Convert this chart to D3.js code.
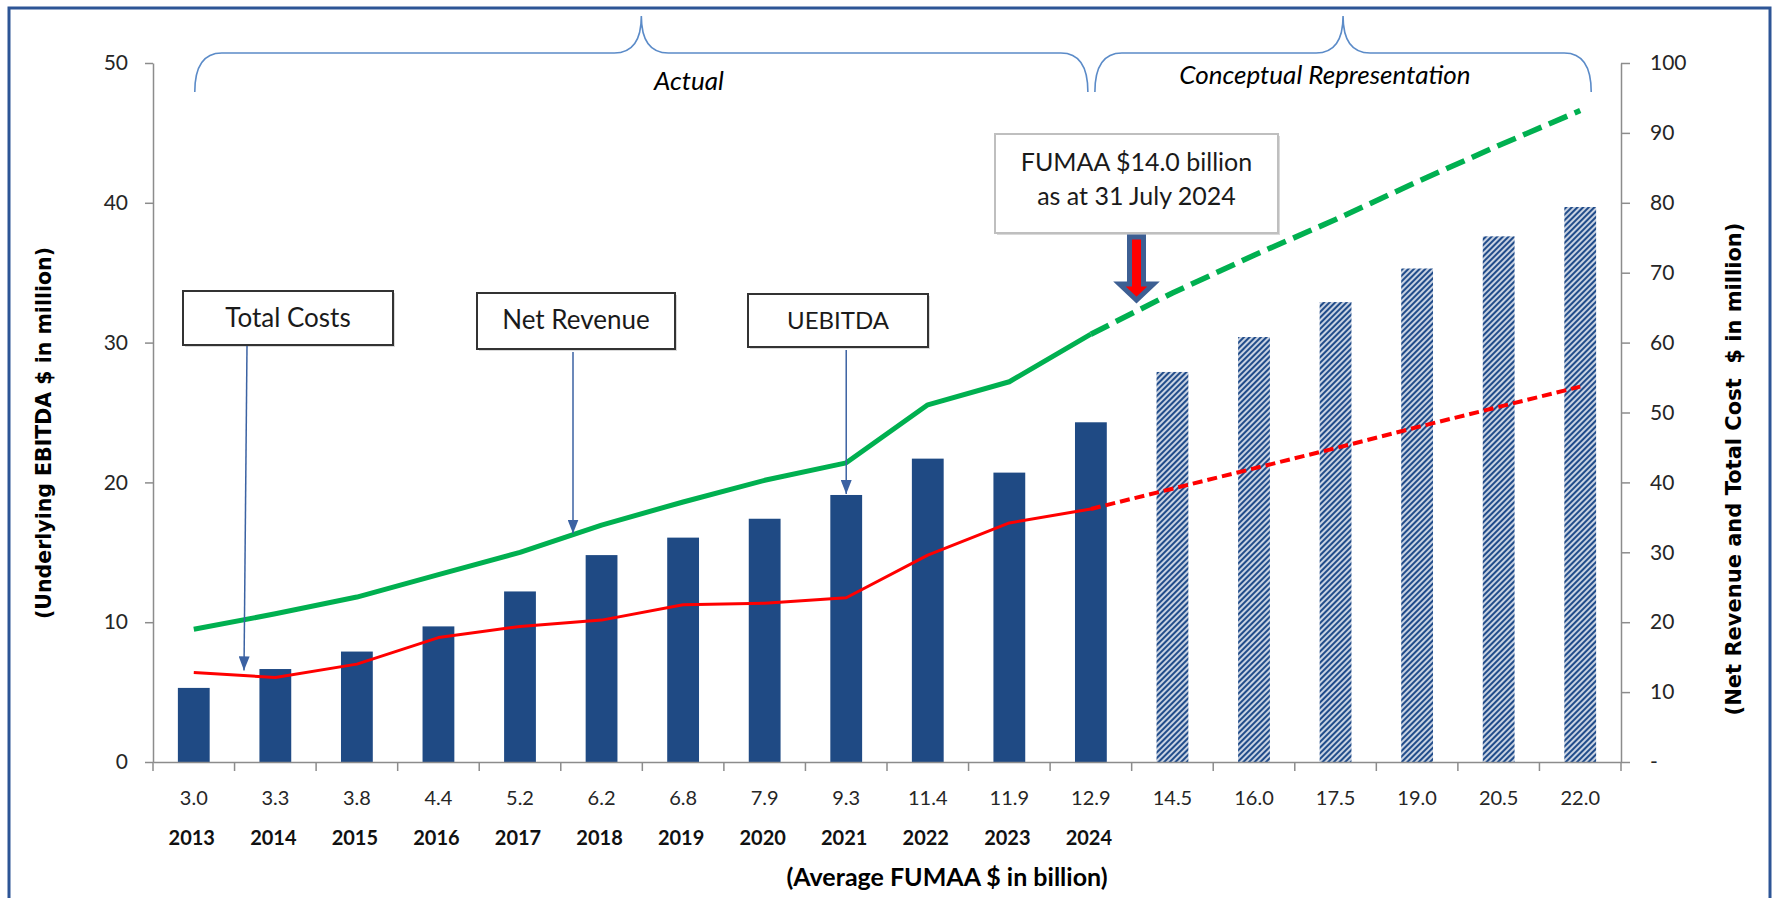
<!DOCTYPE html>
<html>
<head>
<meta charset="utf-8">
<script src="https://cdn.jsdelivr.net/npm/d3@7"></script>
<style>
body { margin: 0; background: #fff; }
svg { display: block; font-family: Lato, "Open Sans", sans-serif; }
.axis path, .axis line { stroke: #8c8c8c; stroke-width: 1.5; }
.axis text { fill: #262626; font-family: Lato, sans-serif; }
</style>
</head>
<body>
<svg class="chart"></svg>
<script>
// average FUMAA ($bn) and financial year per column
var fumaa = ["3.0", "3.3", "3.8", "4.4", "5.2", "6.2", "6.8", "7.9", "9.3", "11.4", "11.9", "12.9",
	"14.5", "16.0", "17.5", "19.0", "20.5", "22.0"];
var years = ["2013", "2014", "2015", "2016", "2017", "2018", "2019", "2020", "2021", "2022", "2023", "2024"];

// underlying EBITDA ($m, left axis)
var uebitda = [5.3, 6.65, 7.9, 9.7, 12.2, 14.8, 16.05, 17.4, 19.1, 21.7, 20.7, 24.3,
	27.9, 30.4, 32.9, 35.3, 37.6, 39.7];
// net revenue and total costs ($m, right axis)
var netRevenue = [19.0, 21.2, 23.6, 26.8, 30.0, 33.9, 37.2, 40.3, 42.8, 51.1, 54.4, 61.2,
	67.1, 72.5, 77.6, 83.0, 88.2, 93.2];
var totalCosts = [12.8, 12.1, 14.0, 17.8, 19.4, 20.3, 22.5, 22.7, 23.5, 29.6, 34.2, 36.2,
	39.1, 42.0, 44.9, 47.9, 50.8, 53.7];

var leftTicks = [0, 10, 20, 30, 40, 50];
var rightTicks = [0, 10, 20, 30, 40, 50, 60, 70, 80, 90, 100];
var actualCount = years.length;

var width = 1783, height = 898;
var plot = {left: 153, right: 1621, top: 63, bottom: 762};

var x = d3.scaleBand()
	.domain(d3.range(fumaa.length))
	.range([plot.left, plot.right])
	.padding(0);
var yLeft = d3.scaleLinear().domain([0, 50]).range([plot.bottom, plot.top]);
var yRight = d3.scaleLinear().domain([0, 100]).range([plot.bottom, plot.top]);

var cx = i => x(i) + x.bandwidth() / 2;
var barW = x.bandwidth() * 0.39;

var svg = d3.select(".chart")
	.attr("width", width)
	.attr("height", height);

var defs = svg.append("defs");

var hatch = defs.append("pattern")
	.attr("id", "hatch")
	.attr("patternUnits", "userSpaceOnUse")
	.attr("width", 4)
	.attr("height", 4)
	.attr("patternTransform", "rotate(45)");
hatch.append("rect").attr("width", 4).attr("height", 4).attr("fill", "#fff");
hatch.append("line")
	.attr("x1", 2).attr("y1", 0).attr("x2", 2).attr("y2", 4)
	.attr("stroke", "#214c8a")
	.attr("stroke-width", 2.5);

defs.append("marker")
	.attr("id", "head")
	.attr("viewBox", "0 0 14 10")
	.attr("markerUnits", "userSpaceOnUse")
	.attr("markerWidth", 14)
	.attr("markerHeight", 11)
	.attr("refX", 14)
	.attr("refY", 5)
	.attr("orient", "auto")
	.attr("preserveAspectRatio", "none")
	.append("path")
	.attr("d", "M0,0L14,5L0,10Z")
	.attr("fill", "#3b62a3");

// outer frame
svg.append("rect")
	.attr("x", 9).attr("y", 8)
	.attr("width", 1761).attr("height", 920)
	.attr("fill", "none")
	.attr("stroke", "#2d5596")
	.attr("stroke-width", 3);

// bars
svg.selectAll(".bar")
	.data(uebitda)
	.enter()
	.append("rect")
	.attr("class", "bar")
	.attr("x", (d, i) => cx(i) - barW / 2)
	.attr("y", d => yLeft(d))
	.attr("width", barW)
	.attr("height", d => plot.bottom - yLeft(d))
	.attr("fill", (d, i) => i < actualCount ? "#1f4a84" : "url(#hatch)");

// axes
var xAxis = d3.axisBottom(x)
	.tickSize(0)
	.tickPadding(29)
	.tickFormat(i => fumaa[i]);

var gx = svg.append("g")
	.attr("class", "axis x")
	.attr("transform", "translate(0," + plot.bottom + ")")
	.call(xAxis);
gx.selectAll("text").style("font-size", "20px");
gx.selectAll(".sep")
	.data(d3.range(fumaa.length + 1))
	.enter()
	.append("line")
	.attr("class", "sep")
	.attr("x1", i => plot.left + i * x.step())
	.attr("x2", i => plot.left + i * x.step())
	.attr("y1", 0)
	.attr("y2", 9);

svg.selectAll(".year")
	.data(years)
	.enter()
	.append("text")
	.attr("class", "year")
	.attr("x", (d, i) => cx(i) - 2)
	.attr("y", 845)
	.attr("text-anchor", "middle")
	.style("font-size", "20px")
	.style("font-weight", "bold")
	.attr("fill", "#111")
	.text(d => d);

var gl = svg.append("g")
	.attr("class", "axis")
	.attr("transform", "translate(" + plot.left + ",0)")
	.call(d3.axisLeft(yLeft).tickValues(leftTicks).tickSize(8).tickSizeOuter(0).tickPadding(17));
gl.selectAll("text").style("font-size", "21px");

var gr = svg.append("g")
	.attr("class", "axis")
	.attr("transform", "translate(" + plot.right + ",0)")
	.call(d3.axisRight(yRight).tickValues(rightTicks).tickSize(9).tickSizeOuter(0).tickPadding(20)
		.tickFormat(d => d === 0 ? "-" : d));
gr.selectAll("text").style("font-size", "21px");

// axis titles
svg.append("text")
	.attr("transform", "translate(44,433) rotate(-90)")
	.attr("text-anchor", "middle")
	.attr("dominant-baseline", "central")
	.style("font-family", "'DejaVu Sans', Verdana, sans-serif")
	.style("font-weight", "bold")
	.style("font-size", "20.5px")
	.text("(Underlying EBITDA $ in million)");

svg.append("text")
	.attr("transform", "translate(1734,469) rotate(-90)")
	.attr("text-anchor", "middle")
	.attr("dominant-baseline", "central")
	.style("font-family", "'DejaVu Sans', Verdana, sans-serif")
	.style("font-weight", "bold")
	.style("font-size", "21px")
	.style("white-space", "pre")
	.text("(Net Revenue and Total Cost  $ in million)");

svg.append("text")
	.attr("x", 947)
	.attr("y", 886)
	.attr("text-anchor", "middle")
	.style("font-weight", "bold")
	.style("font-size", "25px")
	.text("(Average FUMAA $ in billion)");

// lines: solid for actuals, dashed for the projection
function drawLine(values, color, w, dw, dash) {
	var line = d3.line()
		.x(i => cx(i))
		.y(i => yRight(values[i]));
	svg.append("path")
		.attr("d", line(d3.range(0, actualCount)))
		.attr("fill", "none")
		.attr("stroke", color)
		.attr("stroke-width", w)
		.attr("stroke-linejoin", "round");
	svg.append("path")
		.attr("d", line(d3.range(actualCount - 1, values.length)))
		.attr("fill", "none")
		.attr("stroke", color)
		.attr("stroke-width", dw)
		.attr("stroke-dasharray", dash);
}
drawLine(netRevenue, "#00b050", 5, 5.5, "20,8");
drawLine(totalCosts, "#ff0000", 3, 4, "10,5");

// braces over the actual and conceptual periods
function brace(xa, xb) {
	var xm = (xa + xb) / 2, top = 53, end = 92, peak = 16, r = 27;
	return "M" + xa + "," + end + "Q" + xa + "," + top + " " + (xa + r) + "," + top +
		"L" + (xm - r) + "," + top + "Q" + xm + "," + top + " " + xm + "," + peak +
		"Q" + xm + "," + top + " " + (xm + r) + "," + top +
		"L" + (xb - r) + "," + top + "Q" + xb + "," + top + " " + xb + "," + end;
}
svg.append("path")
	.attr("d", brace(cx(0) + 1, cx(actualCount - 1) - 3))
	.attr("fill", "none").attr("stroke", "#5b8bc8").attr("stroke-width", 1.6);
svg.append("path")
	.attr("d", brace(cx(actualCount - 1) + 4, cx(fumaa.length - 1) + 11))
	.attr("fill", "none").attr("stroke", "#5b8bc8").attr("stroke-width", 1.6);

svg.append("text")
	.attr("x", 689).attr("y", 90)
	.attr("text-anchor", "middle")
	.style("font-style", "italic").style("font-size", "26px")
	.text("Actual");
svg.append("text")
	.attr("x", 1325).attr("y", 84)
	.attr("text-anchor", "middle")
	.style("font-style", "italic").style("font-size", "26px")
	.text("Conceptual Representation");

// callout boxes
function callout(x0, y0, w, h, lines, stroke, sw) {
	var g = svg.append("g");
	g.append("rect")
		.attr("x", x0 + 2).attr("y", y0 + 2).attr("width", w).attr("height", h)
		.attr("fill", "#d9d9d9");
	g.append("rect")
		.attr("x", x0).attr("y", y0).attr("width", w).attr("height", h)
		.attr("fill", "#fff").attr("stroke", stroke).attr("stroke-width", sw);
	lines.forEach(function(t, k) {
		g.append("text")
			.attr("x", x0 + w / 2)
			.attr("y", t.y)
			.attr("text-anchor", "middle")
			.style("font-size", t.size + "px")
			.attr("fill", "#1a1a1a")
			.text(t.text);
	});
}
function pointer(x1, y1, x2, y2) {
	svg.append("line")
		.attr("x1", x1).attr("y1", y1).attr("x2", x2).attr("y2", y2)
		.attr("stroke", "#3b62a3").attr("stroke-width", 1.5)
		.attr("marker-end", "url(#head)");
}

callout(183, 291, 210, 54, [{text: "Total Costs", y: 327, size: 26}], "#333", 2);
pointer(247, 346, 244, yRight(totalCosts[1]) - 7);

callout(477, 293, 198, 56, [{text: "Net Revenue", y: 329, size: 26}], "#333", 2);
var tipX = 573, frac = (tipX - cx(4)) / x.step();
pointer(tipX, 352, tipX, yRight(netRevenue[4] + frac * (netRevenue[5] - netRevenue[4])) - 1);

callout(748, 294, 180, 53, [{text: "UEBITDA", y: 329, size: 24}], "#333", 2);
pointer(cx(8), 350, cx(8), yLeft(uebitda[8]) - 1);

callout(995, 134, 283, 99, [{text: "FUMAA $14.0 billion", y: 171, size: 25}, {text: "as at 31 July 2024", y: 205, size: 25}], "#bfbfbf", 2);

// block arrow marking the current FUMAA
var ax = 1136.5;
svg.append("path")
	.attr("d", "M" + (ax - 7) + ",237L" + (ax + 7) + ",237L" + (ax + 7) + ",284L" + (ax + 17) + ",284L" +
		ax + ",300L" + (ax - 17) + ",284L" + (ax - 7) + ",284Z")
	.attr("fill", "#ff0000")
	.attr("stroke", "#3d5f93")
	.attr("stroke-width", 5)
	.attr("stroke-linejoin", "miter");
</script>
</body>
</html>
